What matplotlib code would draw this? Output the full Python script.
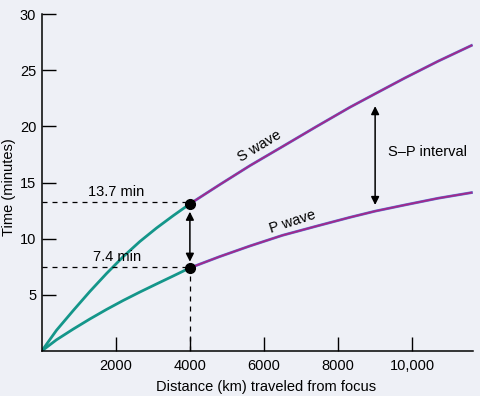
import matplotlib
matplotlib.use("Agg")
import matplotlib.pyplot as plt

plt.rcParams['font.family'] = ['Liberation Sans', 'DejaVu Sans']

# distances in km, times in minutes
s_near_km = [0, 400, 850, 1300, 1750, 2200, 2650, 3100, 3550, 4000]
s_near_min = [0, 1.85, 3.6, 5.3, 6.9, 8.4, 9.75, 10.95, 12.05, 13.1]
p_near_km = [0, 400, 850, 1300, 1750, 2200, 2650, 3100, 3550, 4000]
p_near_min = [0, 1.0, 1.95, 2.85, 3.7, 4.5, 5.25, 5.97, 6.68, 7.4]

far_km = [4000, 4800, 5620, 6500, 7400, 8320, 9000, 9800, 10700, 11600]
s_far_min = [13.1, 14.8, 16.5, 18.2, 19.95, 21.7, 22.9, 24.3, 25.8, 27.2]
p_far_min = [7.4, 8.4, 9.35, 10.3, 11.1, 11.9, 12.45, 13.0, 13.6, 14.1]

x_ticks = [2000, 4000, 6000, 8000, 10000]
x_labels = ['2000', '4000', '6000', '8000', '10,000']
y_ticks = [5, 10, 15, 20, 25, 30]

s_guide = 13.3
p_guide = 7.45

teal = '#14968a'
purple = '#a02a8c'
bg = '#eef0f6'

fig = plt.figure(figsize=(4.81, 3.96), dpi=100, facecolor=bg)
ax = fig.add_axes([0.0867, 0.1136, 0.8973, 0.851], facecolor=bg)

ax.plot(s_near_km, s_near_min, color=teal, lw=2.0, solid_capstyle='round')
ax.plot(p_near_km, p_near_min, color=teal, lw=2.0, solid_capstyle='round')
ax.plot(far_km, s_far_min, color='#5a78d8', lw=2.0)
ax.plot(far_km, s_far_min, color=purple, lw=1.4)
ax.plot(far_km, p_far_min, color='#5a78d8', lw=2.0)
ax.plot(far_km, p_far_min, color=purple, lw=1.4)

# guide lines
ax.plot([0, 4000], [s_guide, s_guide], color='black', lw=0.9, dashes=(4, 4))
ax.plot([0, 4000], [p_guide, p_guide], color='black', lw=0.9, dashes=(4, 4))
ax.plot([4000, 4000], [0, p_near_min[-1]], color='black', lw=0.9, dashes=(4, 4))

ax.plot([4000, 4000], [s_near_min[-1], p_near_min[-1]], 'o', color='black', ms=7, zorder=5)

arrow = dict(arrowstyle='<|-|>', color='black', lw=1.1, mutation_scale=12,
             shrinkA=0, shrinkB=0)
ax.annotate('', xy=(4000, 7.95), xytext=(4000, 12.4), arrowprops=arrow)
ax.annotate('', xy=(9000, 13.0), xytext=(9000, 21.8), arrowprops=arrow)

ax.text(2000, 14.2, '13.7 min', fontsize=10.5, ha='center', va='center')
ax.text(2030, 8.35, '7.4 min', fontsize=10.5, ha='center', va='center')
ax.text(5870, 18.2, 'S wave', fontsize=10.5, ha='center', va='center', rotation=31)
ax.text(6760, 11.5, 'P wave', fontsize=10.5, ha='center', va='center', rotation=18)
ax.text(9350, 17.75, 'S\u2013P interval', fontsize=10.5, ha='left', va='center')

ax.set_xlim(0, 11650)
ax.set_ylim(0, 30)
ax.set_xticks(x_ticks)
ax.set_xticklabels(x_labels)
ax.set_yticks(y_ticks)
ax.tick_params(axis='both', direction='in', length=10, width=1, labelsize=10.5)
ax.tick_params(axis='y', pad=4)
ax.tick_params(axis='x', pad=6)

for side in ['top', 'right']:
    ax.spines[side].set_visible(False)
for side in ['left', 'bottom']:
    ax.spines[side].set_linewidth(1.1)

ax.set_xlabel('Distance (km) traveled from focus', fontsize=10.5, va='center')
ax.set_ylabel('Time (minutes)', fontsize=10.5, va='center')
ax.xaxis.set_label_coords(0.519, -0.107)
ax.yaxis.set_label_coords(-0.075, 0.487)

fig.savefig('out.png', dpi=100, facecolor=bg)
